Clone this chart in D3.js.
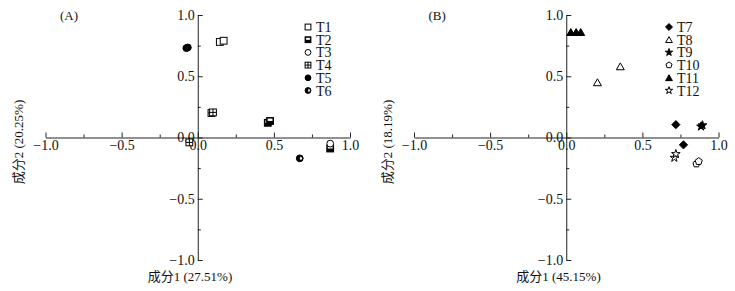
<!DOCTYPE html>
<html>
<head>
<meta charset="utf-8">
<script src="https://cdn.jsdelivr.net/npm/d3@7"></script>
<style>
  body { margin: 0; background: #fff; }
  svg text { font-family: "Liberation Serif", "Times New Roman", "Noto Sans CJK SC", serif; fill: #111; }
</style>
</head>
<body>
<div id="chart"></div>
<script>
// loadings, [component 1, component 2]
var T1 = [[0.145, 0.78], [0.17, 0.79]];
var T2 = [[0.46, 0.12], [0.475, 0.135], [0.87, -0.09]];
var T3 = [[0.87, -0.05]];
var T4 = [[0.09, 0.20], [0.10, 0.205], [-0.055, -0.04]];
var T5 = [[-0.075, 0.73], [-0.065, 0.735]];
var T6 = [[0.67, -0.17]];

var T7 = [[0.72, 0.105], [0.77, -0.06]];
var T8 = [[0.205, 0.45], [0.355, 0.58]];
var T9 = [[0.885, 0.09], [0.895, 0.10]];
var T10 = [[0.855, -0.215], [0.87, -0.195]];
var T11 = [[0.03, 0.86], [0.065, 0.86], [0.095, 0.86]];
var T12 = [[0.71, -0.165], [0.72, -0.135]];

var namesA = ["T1", "T2", "T3", "T4", "T5", "T6"];
var namesB = ["T7", "T8", "T9", "T10", "T11", "T12"];
var dataA = [T1, T2, T3, T4, T5, T6];
var dataB = [T7, T8, T9, T10, T11, T12];
var shapesA = ["square", "halfsquare", "circle", "plussquare", "dot", "halfdot"];
var shapesB = ["diamond", "triangle", "star", "pentagon", "filltriangle", "openstar"];

var panelLabels = ["(A)", "(B)"];
var xLabels = ["成分1 (27.51%)", "成分1 (45.15%)"];
var yLabels = ["成分2 (20.25%)", "成分2 (18.19%)"];
var majorTicks = [-1, -0.5, 0, 0.5, 1];
var minorTicks = [-0.75, -0.25, 0.25, 0.75];

var width = 735, height = 291;
var svg = d3.select("#chart").append("svg")
    .attr("width", width)
    .attr("height", height);

// draws one marker centred at 0,0, r is half the width
function marker(g, shape, r) {
    var sq = function (fill) {
        return g.append("rect").attr("x", -r).attr("y", -r)
            .attr("width", 2 * r).attr("height", 2 * r)
            .attr("fill", fill).attr("stroke", "#000").attr("stroke-width", 1);
    };
    var poly = function (n, k) {
        var pts = d3.range(n).map(function (i) {
            var a = i * 2 * Math.PI / n;
            return [Math.sin(a) * r * k, -Math.cos(a) * r * k];
        });
        return g.append("path").attr("d", "M" + pts.join("L") + "Z")
            .attr("stroke", "#000").attr("stroke-width", 1);
    };
    var star = function (fill) {
        return g.append("path")
            .attr("d", d3.symbol(d3.symbolStar, r * r * 2)())
            .attr("fill", fill).attr("stroke", "#000").attr("stroke-width", 1);
    };
    if (shape == "square") sq("#fff");
    if (shape == "halfsquare") {
        sq("#000");
        g.append("rect").attr("x", -r + 1).attr("y", -r + 1)
            .attr("width", 2 * r - 2).attr("height", r * 0.7).attr("fill", "#fff");
    }
    if (shape == "plussquare") {
        sq("#fff");
        g.append("path").attr("d", "M" + (-r) + ",0H" + r + "M0," + (-r) + "V" + r)
            .attr("stroke", "#000").attr("stroke-width", 1);
    }
    if (shape == "circle")
        g.append("circle").attr("r", r).attr("fill", "#fff").attr("stroke", "#000");
    if (shape == "dot")
        g.append("circle").attr("r", r).attr("fill", "#000").attr("stroke", "#000");
    if (shape == "halfdot") {
        g.append("circle").attr("r", r).attr("fill", "#000").attr("stroke", "#000");
        g.append("path")
            .attr("d", d3.arc()({ innerRadius: 0, outerRadius: r * 0.6, startAngle: 0.3, endAngle: Math.PI - 0.3 }))
            .attr("transform", "translate(" + (r * 0.05) + ",0)")
            .attr("fill", "#fff");
    }
    if (shape == "diamond") poly(4, 1.2).attr("fill", "#000");
    if (shape == "triangle") poly(3, 1.35).attr("fill", "#fff").attr("transform", "translate(0," + (r * 0.3) + ")");
    if (shape == "filltriangle") poly(3, 1.35).attr("fill", "#000").attr("transform", "translate(0," + (r * 0.3) + ")");
    if (shape == "pentagon") poly(5, 1.1).attr("fill", "#fff");
    if (shape == "star") star("#000");
    if (shape == "openstar") star("#fff");
}

function drawPanel(i, names, data, shapes) {
    var off = i * 368.5;
    var x = d3.scaleLinear().domain([-1, 1]).range([45.5 + off, 350 + off]);
    var y = d3.scaleLinear().domain([-1, 1]).range([260, 15]);
    var g = svg.append("g");

    // x axis through y = 0, ticks pointing up
    g.append("g").attr("transform", "translate(0," + y(0) + ")")
        .call(d3.axisBottom(x).tickValues(majorTicks).tickFormat(d3.format(".1f"))
            .tickSizeInner(-5).tickSizeOuter(0).tickPadding(3));
    g.append("g").attr("transform", "translate(0," + y(0) + ")")
        .call(d3.axisBottom(x).tickValues(minorTicks).tickFormat("")
            .tickSizeInner(-3).tickSizeOuter(0))
        .select(".domain").remove();

    // y axis through x = 0, ticks pointing right
    g.append("g").attr("transform", "translate(" + x(0) + ",0)")
        .call(d3.axisLeft(y).tickValues(majorTicks).tickFormat(d3.format(".1f"))
            .tickSizeInner(-5).tickSizeOuter(0).tickPadding(3));
    g.append("g").attr("transform", "translate(" + x(0) + ",0)")
        .call(d3.axisLeft(y).tickValues(minorTicks).tickFormat("")
            .tickSizeInner(-3).tickSizeOuter(0))
        .select(".domain").remove();

    g.selectAll(".tick text")
        .style("font-size", "14px").attr("fill", "#111");
    g.selectAll(".domain, .tick line").attr("stroke", "#222");

    // points
    data.forEach(function (pts, k) {
        pts.forEach(function (p) {
            var m = g.append("g")
                .attr("transform", "translate(" + x(p[0]) + "," + y(p[1]) + ")");
            marker(m, shapes[k], 3.4);
        });
    });

    // legend: markers, then one text block with a line per entry
    var lx = i == 0 ? 308 : 669;
    var rowH = 12.7;
    names.forEach(function (n, k) {
        var m = g.append("g").attr("transform", "translate(" + lx + "," + (27 + k * rowH) + ")");
        marker(m, shapes[k], 2.9);
    });
    g.append("text").attr("y", 32)
        .style("font-size", "14px")
        .selectAll("tspan").data(names).enter().append("tspan")
        .attr("x", lx + 8)
        .attr("dy", function (d, k) { return k == 0 ? 0 : rowH; })
        .text(function (d) { return d; });

    g.append("text").attr("x", 60 + off).attr("y", 20)
        .style("font-size", "13px").text(panelLabels[i]);

    g.append("text").attr("x", 190 + off).attr("y", 281)
        .attr("text-anchor", "middle")
        .style("font-size", "13px").text(xLabels[i]);

    g.append("text")
        .attr("transform", "translate(" + (23 + off) + ",142) rotate(-90)")
        .attr("text-anchor", "middle")
        .style("font-size", "13px").text(yLabels[i]);
}

drawPanel(0, namesA, dataA, shapesA);
drawPanel(1, namesB, dataB, shapesB);
</script>
</body>
</html>
